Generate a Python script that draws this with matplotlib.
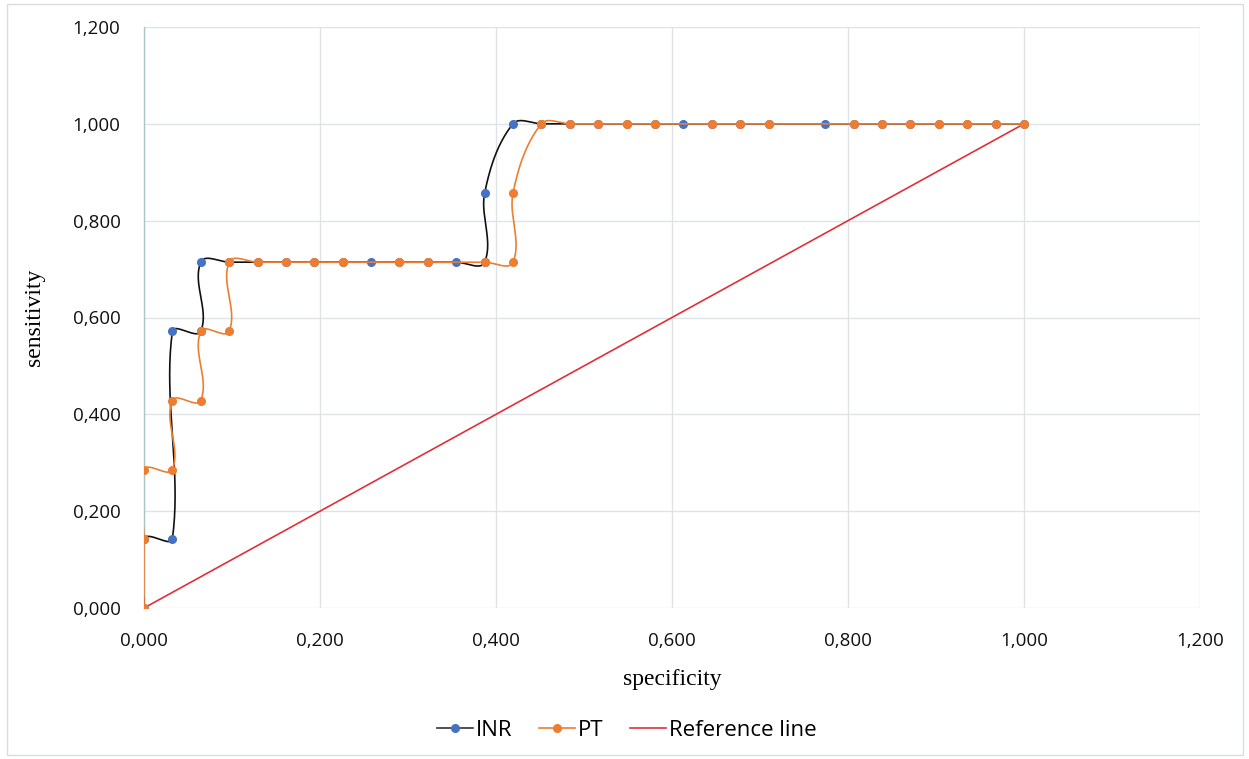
import numpy as np
import matplotlib.pyplot as plt
from matplotlib.lines import Line2D
from matplotlib.patches import Rectangle
from matplotlib.ticker import FuncFormatter

# ROC points: 1 - specificity steps of 1/31, sensitivity steps of 1/7
n_neg = 31
n_pos = 7

# INR (x in units of 1/31, y in units of 1/7)
inr_xk = [0, 0, 1, 1, 2, 2, 3, 4, 5, 6, 7, 8, 9, 10, 11, 12, 12, 13,
          14, 15, 16, 17, 18, 19, 20, 21, 22, 24, 25, 26, 27, 28, 29, 30, 31]
inr_yk = [0, 1, 1, 4, 4, 5, 5, 5, 5, 5, 5, 5, 5, 5, 5, 5, 6, 7,
          7, 7, 7, 7, 7, 7, 7, 7, 7, 7, 7, 7, 7, 7, 7, 7, 7]

# PT
pt_xk = [0, 0, 0, 1, 1, 2, 2, 3, 3, 4, 5, 6, 7, 9, 10, 12, 13, 13, 14,
         15, 16, 17, 18, 20, 21, 22, 25, 26, 27, 28, 29, 30, 31]
pt_yk = [0, 1, 2, 2, 3, 3, 4, 4, 5, 5, 5, 5, 5, 5, 5, 5, 5, 6, 7,
         7, 7, 7, 7, 7, 7, 7, 7, 7, 7, 7, 7, 7, 7]

ref_x = [0.0, 1.0]
ref_y = [0.0, 1.0]

inr_x = np.array(inr_xk) / n_neg
inr_y = np.array(inr_yk) / n_pos
pt_x = np.array(pt_xk) / n_neg
pt_y = np.array(pt_yk) / n_pos

# pixel size of one data unit (used so the smoothing looks like Excel's)
SX, SY = 880.0, 485.0


def smooth(x, y, n=40):
    # bezier through the points, tangent scaled by segment length
    p = np.column_stack([np.asarray(x) * SX, np.asarray(y) * SY])
    p = np.vstack([p[0], p, p[-1]])
    t = np.linspace(0, 1, n)[:, None]
    out = []
    for i in range(1, len(p) - 2):
        p0, p1, p2, p3 = p[i - 1], p[i], p[i + 1], p[i + 2]
        d = np.linalg.norm(p2 - p1)
        t1 = p2 - p0
        t2 = p3 - p1
        t1 = t1 / max(np.linalg.norm(t1), 1e-9)
        t2 = t2 / max(np.linalg.norm(t2), 1e-9)
        b1 = p1 + t1 * d / 3
        b2 = p2 - t2 * d / 3
        seg = ((1 - t) ** 3) * p1 + 3 * ((1 - t) ** 2) * t * b1 \
            + 3 * (1 - t) * t ** 2 * b2 + t ** 3 * p2
        out.append(seg)
    s = np.vstack(out)
    return s[:, 0] / SX, s[:, 1] / SY


blue = '#4472C4'
orange = '#ED7D31'
red = '#E0303A'

fig = plt.figure(figsize=(12.49, 7.59), dpi=100)
ax = fig.add_axes([144 / 1249, 1 - 608 / 759, (1200 - 144) / 1249, (608 - 27) / 759])

ax.plot(ref_x, ref_y, color=red, lw=1.2, zorder=2)

sx, sy = smooth(inr_x, inr_y)
ax.plot(sx, sy, color='#111111', lw=1.2, zorder=3)
ax.plot(inr_x, inr_y, 'o', color=blue, ms=5.5, zorder=4)

sx, sy = smooth(pt_x, pt_y)
ax.plot(sx, sy, color=orange, lw=1.2, zorder=5)
ax.plot(pt_x, pt_y, 'o', color=orange, ms=5.5, zorder=6)

ax.set_xlim(0, 1.2)
ax.set_ylim(0, 1.2)
ticks = np.arange(0, 1.21, 0.2)
ax.set_xticks(ticks)
ax.set_yticks(ticks)
fmt = FuncFormatter(lambda v, p: f'{v:.3f}'.replace('.', ','))
ax.xaxis.set_major_formatter(fmt)
ax.yaxis.set_major_formatter(fmt)
ax.tick_params(length=0, labelsize=13.5, pad=17, labelcolor='#111111')
for lab in ax.get_xticklabels() + ax.get_yticklabels():
    lab.set_family('Open Sans')

ax.grid(True, color='#dde3e6', lw=1.0, zorder=0)
ax.set_axisbelow(True)
for s in ['top', 'right', 'bottom']:
    ax.spines[s].set_visible(False)
ax.spines['left'].set_color('#a9c6c9')
ax.spines['left'].set_linewidth(1.0)

ax.set_xlabel('specificity', family='Liberation Serif', fontsize=17, labelpad=14)
ax.set_ylabel('sensitivity', family='Liberation Serif', fontsize=17, labelpad=20)

handles = [
    Line2D([], [], color='#333333', lw=1.2, marker='o', ms=5.5,
           markerfacecolor=blue, markeredgecolor=blue),
    Line2D([], [], color=orange, lw=1.2, marker='o', ms=5.5,
           markerfacecolor=orange, markeredgecolor=orange),
    Line2D([], [], color=red, lw=1.2),
]
fig.legend(handles, ['INR', 'PT', 'Reference line'], loc='center',
           bbox_to_anchor=(627 / 1249, 1 - 730 / 759), ncol=3, frameon=False,
           prop={'family': 'Open Sans', 'size': 16}, handlelength=1.6,
           handletextpad=0.15, columnspacing=1.2)

fig.patches.append(Rectangle((7 / 1249, 4 / 759), 1236 / 1249, 751 / 759,
                             transform=fig.transFigure, fill=False,
                             edgecolor='#d9dde0', lw=1.0))

fig.savefig('out.png', dpi=100)
